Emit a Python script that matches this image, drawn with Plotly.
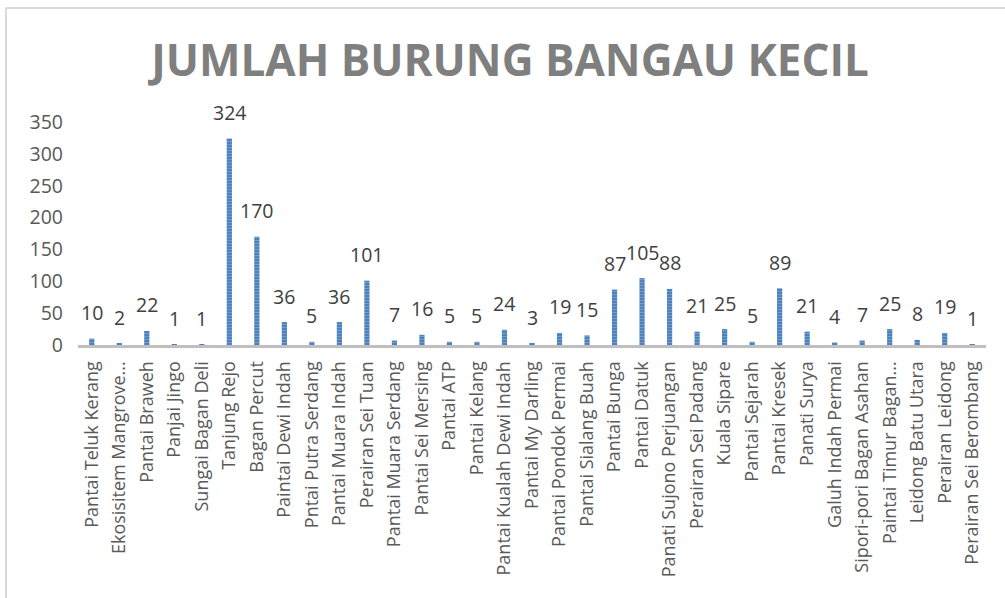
import plotly.graph_objects as go

categories = [
    "Pantai Teluk Kerang", "Ekosisitem Mangrove...", "Pantai Braweh", "Panjai Jingo",
    "Sungai Bagan Deli", "Tanjung Rejo", "Bagan Percut", "Paintai Dewi Indah",
    "Pntai Putra Serdang", "Pantai Muara Indah", "Perairan Sei Tuan", "Pantai Muara Serdang",
    "Pantai Sei Mersing", "Pantai ATP", "Pantai Kelang", "Pantai Kualah Dewi Indah",
    "Pantai My Darling", "Pantai Pondok Permai", "Pantai Sialang Buah", "Pantai Bunga",
    "Pantai Datuk", "Panati Sujono Perjuangan", "Perairan Sei Padang", "Kuala Sipare",
    "Pantai Sejarah", "Pantai Kresek", "Panati Surya", "Galuh Indah Permai",
    "Sipori-pori Bagan Asahan", "Paintai Timur Bagan...", "Leidong Batu Utara",
    "Perairan Leidong", "Perairan Sei Berombang",
]
values = [10, 2, 22, 1, 1, 324, 170, 36, 5, 36, 101, 7, 16, 5, 5, 24, 3, 19, 15, 87,
          105, 88, 21, 25, 5, 89, 21, 4, 7, 25, 8, 19, 1]
y_ticks = [0, 50, 100, 150, 200, 250, 300, 350]
title_text = "JUMLAH BURUNG BANGAU KECIL"

W, H = 1005, 598
L, R, T, B = 78, 19, 122, 253
pw = W - L - R
ph = H - T - B

fig = go.Figure()
fig.add_trace(go.Bar(
    x=categories, y=values, width=0.19,
    marker=dict(color="#4f81bd", line=dict(width=0),
                pattern=dict(shape="-", fgcolor="#9fbce2", bgcolor="#4f81bd",
                             size=3, solidity=0.3, fillmode="overlay")),
    hoverinfo="x+y",
))

for c, v in zip(categories, values):
    fig.add_annotation(x=c, y=v, text=str(v), showarrow=False, yanchor="middle",
                       yshift=26, font=dict(family="Open Sans", size=19.5, color="#404040"))

def px_x(p):
    return (p - L) / pw

def px_y(p):
    return (H - B - p) / ph

border = "#d9d9d9"
fig.add_shape(type="line", xref="paper", yref="paper",
              x0=px_x(6), x1=px_x(1010), y0=px_y(8), y1=px_y(8),
              line=dict(color=border, width=2))
fig.add_shape(type="line", xref="paper", yref="paper",
              x0=px_x(6), x1=px_x(6), y0=px_y(8), y1=px_y(600),
              line=dict(color=border, width=2))

fig.update_layout(
    width=W, height=H,
    margin=dict(l=L, r=R, t=T, b=B, autoexpand=False),
    paper_bgcolor="white", plot_bgcolor="white",
    showlegend=False,
    title=dict(text=title_text, x=510 / W, xanchor="center", xref="container",
               y=1 - 61 / H, yanchor="middle", yref="container",
               font=dict(family="Open Sans", size=44, color="#7f7f7f", weight="bold")),
    font=dict(family="Open Sans", color="#595959"),
)
fig.update_xaxes(showline=True, linecolor="#bfbfbf", linewidth=3, ticks="",
                 tickangle=-90, tickfont=dict(size=18, color="#595959"),
                 showgrid=False, ticklabelstandoff=6, automargin=False)
fig.update_yaxes(range=[0, 350], tickvals=y_ticks, showgrid=False, zeroline=False,
                 showline=False, tickfont=dict(size=19.5, color="#595959"),
                 ticklabelstandoff=14, automargin=False)

fig.write_html("out.html")
